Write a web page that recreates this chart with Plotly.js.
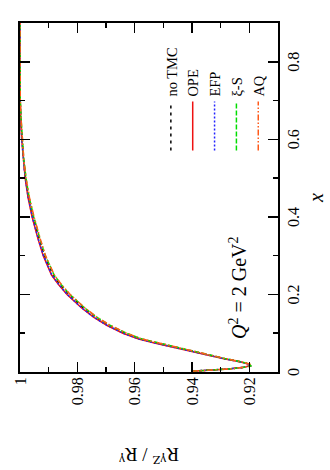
<!DOCTYPE html>
<html>
<head>
<meta charset="utf-8">
<script src="https://cdn.plot.ly/plotly-3.0.1.min.js"></script>
<style>
    html, body { margin: 0; padding: 0; width: 330px; height: 470px; overflow: hidden; background: #fff; }
    /* the figure is drawn in landscape and turned a quarter turn, like the original */
    #myDiv {
        position: absolute;
        left: 0;
        top: 0;
        width: 470px;
        height: 330px;
        transform-origin: 0 0;
        transform: translateY(470px) rotate(-90deg);
    }
</style>
</head>
<body>
<div id="myDiv"></div>
<script>
// Bjorken x values
const xVals = [0.002, 0.005, 0.008, 0.012, 0.016, 0.02, 0.026, 0.035, 0.044, 0.055, 0.064, 0.075, 0.085,
    0.1, 0.12, 0.14, 0.165, 0.2, 0.225, 0.25, 0.3, 0.34, 0.4, 0.45, 0.5, 0.55, 0.6, 0.65, 0.7, 0.75, 0.8, 0.85, 0.9];

// R^gammaZ / R^gamma for each treatment of target mass corrections
const noTMC = [0.9400, 0.9330, 0.9270, 0.9220, 0.9196, 0.9200, 0.9228, 0.9290, 0.9344, 0.9410, 0.9463, 0.9525, 0.9580,
    0.9635, 0.9690, 0.9735, 0.9779, 0.9830, 0.9860, 0.9885, 0.9915, 0.9932, 0.9955, 0.9970, 0.9981, 0.9988, 0.9993, 0.9997, 0.9999, 1.0, 1.0, 1.0, 1.0];
const ope = [0.9401, 0.9331, 0.9271, 0.9221, 0.9197, 0.9201, 0.9230, 0.9293, 0.9348, 0.9415, 0.9469, 0.9531, 0.9586,
    0.9641, 0.9696, 0.9741, 0.9785, 0.9836, 0.9865, 0.9890, 0.9919, 0.9936, 0.9958, 0.9972, 0.9982, 0.9989, 0.9994, 0.9998, 1.0, 1.0, 1.0, 1.0, 1.0];
const efp = [0.9400, 0.9330, 0.9271, 0.9221, 0.9197, 0.9201, 0.9229, 0.9292, 0.9347, 0.9414, 0.9468, 0.9530, 0.9585,
    0.9640, 0.9695, 0.9740, 0.9784, 0.9835, 0.9864, 0.9889, 0.9918, 0.9935, 0.9957, 0.9971, 0.9982, 0.9989, 0.9994, 0.9997, 1.0, 1.0, 1.0, 1.0, 1.0];
const xiS = [0.9399, 0.9329, 0.9269, 0.9219, 0.9195, 0.9199, 0.9226, 0.9287, 0.9340, 0.9405, 0.9457, 0.9519, 0.9574,
    0.9629, 0.9685, 0.9730, 0.9774, 0.9826, 0.9856, 0.9881, 0.9912, 0.9929, 0.9952, 0.9968, 0.9979, 0.9987, 0.9992, 0.9996, 0.9999, 1.0, 1.0, 1.0, 1.0];
const aq = [0.9399, 0.9328, 0.9268, 0.9219, 0.9195, 0.9198, 0.9225, 0.9286, 0.9339, 0.9404, 0.9456, 0.9518, 0.9573,
    0.9628, 0.9684, 0.9729, 0.9773, 0.9825, 0.9855, 0.9880, 0.9911, 0.9928, 0.9951, 0.9967, 0.9979, 0.9987, 0.9992, 0.9996, 0.9999, 1.0, 1.0, 1.0, 1.0];

const seriesNames = ['no TMC', 'OPE', 'EFP', 'ξ-S', 'AQ'];

const xTicks = [0, 0.2, 0.4, 0.6, 0.8];
const xTickText = ['0', '0.2', '0.4', '0.6', '0.8'];
const yTicks = [0.92, 0.94, 0.96, 0.98, 1];
const yTickText = ['0.92', '0.94', '0.96', '0.98', '1'];

const serif = 'Liberation Serif, Times New Roman, serif';

const getData = () => {
    const series = [noTMC, ope, efp, xiS, aq];
    const styles = [
        { color: '#000000', dash: '3px,4px' },
        { color: '#ee1111', dash: 'solid' },
        { color: '#2222ff', dash: '2px,2px' },
        { color: '#00dd00', dash: '5px,2px' },
        { color: '#ff5a1a', dash: '6px,2px,1.5px,2px,1.5px,2px' }
    ];
    return series.map((vals, i) => ({
        x: xVals,
        y: vals,
        type: 'scatter',
        mode: 'lines',
        name: seriesNames[i],
        line: { color: styles[i].color, dash: styles[i].dash, width: 1.5 }
    }));
}

const axisStyle = {
    showline: true,
    linecolor: '#000',
    linewidth: 2,
    mirror: 'allticks',
    ticks: 'inside',
    ticklen: 10,
    tickwidth: 1.5,
    tickcolor: '#000',
    showgrid: false,
    zeroline: false,
    tickfont: { family: serif, size: 16, color: '#000' }
};

const getLayout = () => {
    return {
        width: 470,
        height: 330,
        margin: { l: 98, r: 23, t: 20, b: 52 },
        paper_bgcolor: '#fff',
        plot_bgcolor: '#fff',
        showlegend: true,
        legend: {
            x: 0.62, y: 0.477, xanchor: 'left', yanchor: 'top',
            itemwidth: 49,
            bgcolor: 'rgba(0,0,0,0)',
            font: { family: serif, size: 14.5, color: '#000' }
        },
        xaxis: Object.assign({}, axisStyle, {
            range: [0, 0.9],
            tickmode: 'array',
            tickvals: xTicks,
            ticktext: xTickText,
            minor: { dtick: 0.1, tick0: 0, ticks: 'inside', ticklen: 5, tickwidth: 1.5, tickcolor: '#000' },
            title: { text: '<i>x</i>', font: { family: serif, size: 20, color: '#000' }, standoff: 8 },
            automargin: false
        }),
        yaxis: Object.assign({}, axisStyle, {
            range: [0.91, 1.0],
            tickmode: 'array',
            tickvals: yTicks,
            ticktext: yTickText,
            minor: { dtick: 0.01, tick0: 0.91, ticks: 'inside', ticklen: 5, tickwidth: 1.5, tickcolor: '#000' },
            title: { text: 'R<sup>γZ</sup> / R<sup>γ</sup>', font: { family: serif, size: 19, color: '#000' }, standoff: 37 },
            automargin: false
        }),
        annotations: [{
            xref: 'paper', yref: 'paper',
            x: 0.242, y: 0.155,
            xanchor: 'center', yanchor: 'middle',
            showarrow: false,
            text: '<i>Q</i><sup>2</sup> = 2 GeV<sup>2</sup>',
            font: { family: serif, size: 20, color: '#000' }
        }]
    };
}

Plotly.newPlot('myDiv', getData(), getLayout(), { displayModeBar: false, staticPlot: true });
</script>
</body>
</html>
